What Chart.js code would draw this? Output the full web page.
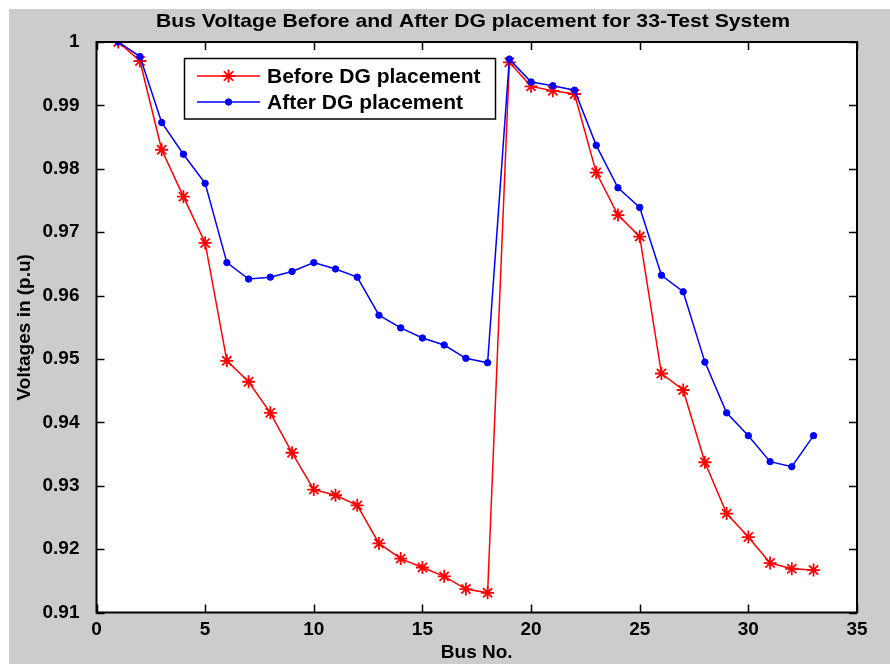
<!DOCTYPE html>
<html>
<head>
<meta charset="utf-8">
<script src="https://cdn.jsdelivr.net/npm/chart.js@4.4.1/dist/chart.umd.min.js"></script>
<style>
  html, body { margin: 0; padding: 0; background: #ffffff; }
  #wrap { width: 890px; height: 664px; }
</style>
</head>
<body>
<div id="wrap"><canvas id="c" width="890" height="664"></canvas></div>
<script>
// ---- data ----
const buses = [1,2,3,4,5,6,7,8,9,10,11,12,13,14,15,16,17,18,19,20,21,22,23,24,25,26,27,28,29,30,31,32,33];
const beforeDG = [1.0000,0.9970,0.9830,0.9756,0.9683,0.9497,0.9464,0.9415,0.9352,0.9294,0.9285,0.9269,0.9209,0.9185,0.9171,0.9157,0.9137,0.9131,
                  0.9968,0.9930,0.9923,0.9918,0.9794,0.9727,0.9693,0.9477,0.9451,0.9337,0.9256,0.9219,0.9178,0.9169,0.9167];
const afterDG  = [1.0000,0.9977,0.9873,0.9823,0.9777,0.9652,0.9626,0.9629,0.9638,0.9652,0.9642,0.9629,0.9569,0.9549,0.9533,0.9522,0.9501,0.9494,
                  0.9973,0.9937,0.9931,0.9924,0.9837,0.9770,0.9739,0.9632,0.9606,0.9495,0.9415,0.9379,0.9338,0.9330,0.9379];
const xTickValues = [0,5,10,15,20,25,30,35];
const yTickLabels = ["0.91","0.92","0.93","0.94","0.95","0.96","0.97","0.98","0.99","1"];
const seriesNames = ["Before DG placement","After DG placement"];
const titleText = "Bus Voltage Before and After DG placement for 33-Test System";
const xTitle = "Bus No.";
const yTitle = "Voltages in (p.u)";

const FONT = "'Liberation Sans', Arial, sans-serif";

const bgPlugin = {
  id: 'bg',
  beforeDraw(chart) {
    const ctx = chart.ctx;
    ctx.save();
    ctx.fillStyle = '#ffffff';
    ctx.fillRect(0, 0, chart.width, chart.height);
    ctx.fillStyle = '#cccccc';
    ctx.fillRect(9, 9, chart.width - 9, chart.height - 9);
    const a = chart.chartArea;
    ctx.fillStyle = '#ffffff';
    ctx.fillRect(a.left, a.top, a.right - a.left, a.bottom - a.top);
    ctx.restore();
  }
};

const frame = {
  id: 'frame',
  afterDraw(chart) {
    const ctx = chart.ctx;
    const a = chart.chartArea;
    const xs = chart.scales.x, ys = chart.scales.y;
    ctx.save();
    ctx.strokeStyle = '#000000';
    ctx.lineWidth = 1.5;
    const tl = 8;
    ctx.beginPath();
    xs.ticks.forEach(t => {
      const px = Math.round(xs.getPixelForValue(t.value)) + 0.5;
      ctx.moveTo(px, a.bottom); ctx.lineTo(px, a.bottom - tl);
      ctx.moveTo(px, a.top); ctx.lineTo(px, a.top + tl);
    });
    ys.ticks.forEach(t => {
      const py = Math.round(ys.getPixelForValue(t.value)) + 0.5;
      ctx.moveTo(a.left, py); ctx.lineTo(a.left + tl, py);
      ctx.moveTo(a.right, py); ctx.lineTo(a.right - tl, py);
    });
    ctx.stroke();
    ctx.lineWidth = 2;
    ctx.strokeRect(a.left, a.top, a.right - a.left, a.bottom - a.top);

    // title
    ctx.fillStyle = '#000000';
    ctx.font = "bold 19px " + FONT;
    ctx.textAlign = 'center';
    ctx.textBaseline = 'middle';
    const w = ctx.measureText(titleText).width;
    const target = 634;
    ctx.save();
    ctx.translate(473, 22);
    ctx.scale(target / w, 1);
    ctx.fillText(titleText, 0, 0);
    ctx.restore();

    // legend
    const lx = 184.5, ly = 58.5, lw = 311, lh = 60.5;
    ctx.fillStyle = '#ffffff';
    ctx.fillRect(lx, ly, lw, lh);
    ctx.strokeStyle = '#000000';
    ctx.lineWidth = 1.5;
    ctx.strokeRect(lx, ly, lw, lh);
    const rows = [76, 102];
    chart.data.datasets.forEach((ds, i) => {
      const y = rows[i];
      ctx.strokeStyle = ds.borderColor;
      ctx.lineWidth = ds.borderWidth;
      ctx.beginPath();
      ctx.moveTo(197, y); ctx.lineTo(260, y);
      ctx.stroke();
      ctx.fillStyle = ds.pointBackgroundColor;
      ctx.strokeStyle = ds.pointBorderColor;
      ctx.lineWidth = ds.pointBorderWidth;
      Chart.helpers.drawPoint(ctx, {pointStyle: ds.pointStyle, radius: ds.pointRadius, borderWidth: ds.pointBorderWidth, rotation: 0}, 228.5, y);
      ctx.fillStyle = '#000000';
      ctx.font = "bold 21px " + FONT;
      ctx.textAlign = 'left';
      ctx.textBaseline = 'middle';
      ctx.fillText(ds.label, 267, y + 1);
    });
    ctx.restore();
  }
};

const beforePts = buses.map((b, i) => ({x: b, y: beforeDG[i]}));
const afterPts = buses.map((b, i) => ({x: b, y: afterDG[i]}));

new Chart(document.getElementById('c'), {
  type: 'line',
  data: {
    datasets: [
      {
        label: seriesNames[0], data: beforePts, order: 2,
        borderColor: '#ff0000', borderWidth: 1.5,
        pointStyle: 'star', pointRadius: 6.5, pointBorderWidth: 1.8,
        pointBorderColor: '#ff0000', pointBackgroundColor: '#ff0000',
        tension: 0, fill: false
      },
      {
        label: seriesNames[1], data: afterPts, order: 1,
        borderColor: '#0000ff', borderWidth: 1.5,
        pointStyle: 'circle', pointRadius: 3.2, pointBorderWidth: 1,
        pointBorderColor: '#0000ff', pointBackgroundColor: '#0000ff',
        tension: 0, fill: false
      }
    ]
  },
  options: {
    responsive: false,
    animation: false,
    devicePixelRatio: 1,
    layout: { padding: { top: 42, right: 33, left: 0, bottom: 0 } },
    plugins: { legend: { display: false }, title: { display: false }, tooltip: { enabled: false } },
    scales: {
      x: {
        type: 'linear', min: 0, max: 35,
        afterFit(s) { s.height = 51.5; },
        afterBuildTicks(s) { s.ticks = xTickValues.map(v => ({value: v})); },
        grid: { display: false },
        border: { display: false },
        ticks: { padding: -2, color: '#000', font: { family: FONT, size: 19, weight: 'bold' }, maxRotation: 0, autoSkip: false,
                 callback: v => String(v) },
        title: { display: true, text: xTitle, color: '#000', font: { family: FONT, size: 19, weight: 'bold', lineHeight: 1 }, padding: { top: 0, bottom: 2 } }
      },
      y: {
        type: 'linear', min: 0.91, max: 1.0,
        afterFit(s) { s.width = 96.5; },
        afterBuildTicks(s) { s.ticks = yTickLabels.map(l => ({value: parseFloat(l)})); },
        grid: { display: false },
        border: { display: false },
        ticks: { padding: 9, color: '#000', font: { family: FONT, size: 19, weight: 'bold' }, autoSkip: false,
                 callback: (v, i) => yTickLabels[i] },
        title: { display: true, text: yTitle, color: '#000', font: { family: FONT, size: 19, weight: 'bold', lineHeight: 1 }, padding: { top: 15, bottom: 0 } }
      }
    }
  },
  plugins: [bgPlugin, frame]
});
</script>
</body>
</html>
